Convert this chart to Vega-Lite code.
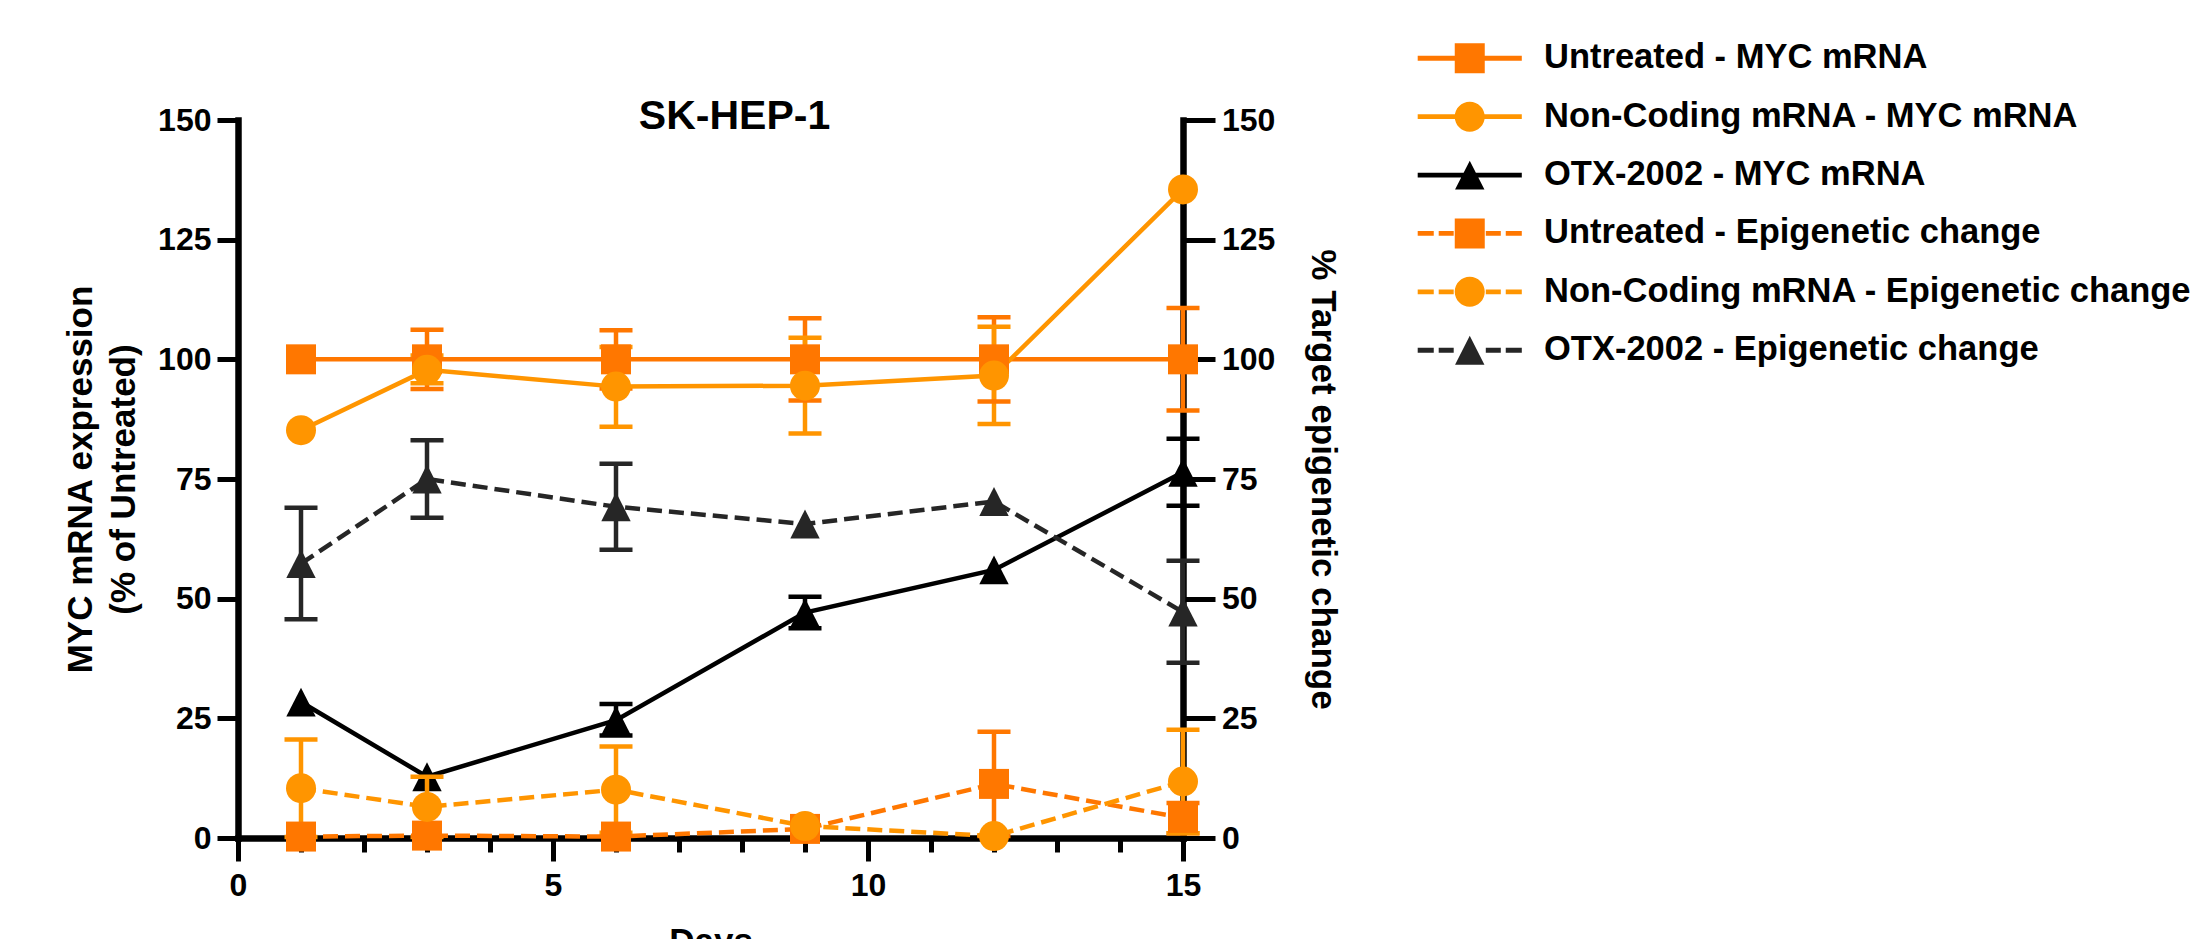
{
  "$schema": "https://vega.github.io/schema/vega-lite/v6.json",
  "autosize": {"type": "none"},
  "padding": {"left": 238, "top": 120, "right": 1022, "bottom": 101},
  "width": 945,
  "height": 718,
  "background": "white",
  "title": {"text": "SK-HEP-1", "fontSize": 41, "font": "Liberation Sans", "fontWeight": "bold", "color": "black", "anchor": "middle", "frame": "group", "dx": 24, "offset": -129, "baseline": "alphabetic"},
  "data": {"values": [
    {"series": "Untreated - MYC mRNA", "measure": "MYC", "day": 1, "value": 100, "lo": null, "hi": null},
    {"series": "Untreated - MYC mRNA", "measure": "MYC", "day": 3, "value": 100, "lo": 93.8, "hi": 106.2},
    {"series": "Untreated - MYC mRNA", "measure": "MYC", "day": 6, "value": 100, "lo": 93.9, "hi": 106.1},
    {"series": "Untreated - MYC mRNA", "measure": "MYC", "day": 9, "value": 100, "lo": 91.4, "hi": 108.6},
    {"series": "Untreated - MYC mRNA", "measure": "MYC", "day": 12, "value": 100, "lo": 91.2, "hi": 108.8},
    {"series": "Untreated - MYC mRNA", "measure": "MYC", "day": 15, "value": 100, "lo": 89.3, "hi": 110.7},
    {"series": "Non-Coding mRNA - MYC mRNA", "measure": "MYC", "day": 1, "value": 85.2, "lo": null, "hi": null},
    {"series": "Non-Coding mRNA - MYC mRNA", "measure": "MYC", "day": 3, "value": 97.8, "lo": 95.0, "hi": 100.8},
    {"series": "Non-Coding mRNA - MYC mRNA", "measure": "MYC", "day": 6, "value": 94.3, "lo": 85.9, "hi": 102.6},
    {"series": "Non-Coding mRNA - MYC mRNA", "measure": "MYC", "day": 9, "value": 94.5, "lo": 84.5, "hi": 104.5},
    {"series": "Non-Coding mRNA - MYC mRNA", "measure": "MYC", "day": 12, "value": 96.6, "lo": 86.5, "hi": 106.8},
    {"series": "Non-Coding mRNA - MYC mRNA", "measure": "MYC", "day": 15, "value": 135.5, "lo": null, "hi": null},
    {"series": "OTX-2002 - MYC mRNA", "measure": "MYC", "day": 1, "value": 28.4, "lo": null, "hi": null},
    {"series": "OTX-2002 - MYC mRNA", "measure": "MYC", "day": 3, "value": 12.8, "lo": null, "hi": null},
    {"series": "OTX-2002 - MYC mRNA", "measure": "MYC", "day": 6, "value": 24.6, "lo": 21.4, "hi": 28.0},
    {"series": "OTX-2002 - MYC mRNA", "measure": "MYC", "day": 9, "value": 47.1, "lo": 43.8, "hi": 50.4},
    {"series": "OTX-2002 - MYC mRNA", "measure": "MYC", "day": 12, "value": 56.0, "lo": null, "hi": null},
    {"series": "OTX-2002 - MYC mRNA", "measure": "MYC", "day": 15, "value": 76.4, "lo": 69.4, "hi": 83.4},
    {"series": "Untreated - Epigenetic change", "measure": "Epi", "day": 1, "value": 0.3, "lo": null, "hi": null},
    {"series": "Untreated - Epigenetic change", "measure": "Epi", "day": 3, "value": 0.5, "lo": null, "hi": null},
    {"series": "Untreated - Epigenetic change", "measure": "Epi", "day": 6, "value": 0.3, "lo": null, "hi": null},
    {"series": "Untreated - Epigenetic change", "measure": "Epi", "day": 9, "value": 1.9, "lo": null, "hi": null},
    {"series": "Untreated - Epigenetic change", "measure": "Epi", "day": 12, "value": 11.3, "lo": 0.4, "hi": 22.2},
    {"series": "Untreated - Epigenetic change", "measure": "Epi", "day": 15, "value": 4.2, "lo": 1.0, "hi": 7.3},
    {"series": "Non-Coding mRNA - Epigenetic change", "measure": "Epi", "day": 1, "value": 10.4, "lo": 0.2, "hi": 20.6},
    {"series": "Non-Coding mRNA - Epigenetic change", "measure": "Epi", "day": 3, "value": 6.5, "lo": 0.2, "hi": 12.8},
    {"series": "Non-Coding mRNA - Epigenetic change", "measure": "Epi", "day": 6, "value": 10.1, "lo": 1.1, "hi": 19.1},
    {"series": "Non-Coding mRNA - Epigenetic change", "measure": "Epi", "day": 9, "value": 2.5, "lo": null, "hi": null},
    {"series": "Non-Coding mRNA - Epigenetic change", "measure": "Epi", "day": 12, "value": 0.4, "lo": null, "hi": null},
    {"series": "Non-Coding mRNA - Epigenetic change", "measure": "Epi", "day": 15, "value": 11.8, "lo": 1.0, "hi": 22.6},
    {"series": "OTX-2002 - Epigenetic change", "measure": "Epi", "day": 1, "value": 57.3, "lo": 45.7, "hi": 69.0},
    {"series": "OTX-2002 - Epigenetic change", "measure": "Epi", "day": 3, "value": 75.0, "lo": 66.9, "hi": 83.1},
    {"series": "OTX-2002 - Epigenetic change", "measure": "Epi", "day": 6, "value": 69.2, "lo": 60.2, "hi": 78.2},
    {"series": "OTX-2002 - Epigenetic change", "measure": "Epi", "day": 9, "value": 65.6, "lo": null, "hi": null},
    {"series": "OTX-2002 - Epigenetic change", "measure": "Epi", "day": 12, "value": 70.3, "lo": null, "hi": null},
    {"series": "OTX-2002 - Epigenetic change", "measure": "Epi", "day": 15, "value": 47.2, "lo": 36.6, "hi": 57.9}
  ]},
  "encoding": {
    "x": {
      "field": "day", "type": "quantitative", "title": "Days",
      "scale": {"domain": [0, 15], "nice": false, "zero": false},
      "axis": {
        "orient": "bottom",
        "values": [0, 1, 2, 3, 4, 5, 6, 7, 8, 9, 10, 11, 12, 13, 14, 15],
        "labelExpr": "datum.value % 5 === 0 ? datum.label : ''",
        "tickSize": {"condition": {"test": "datum.value % 5 === 0", "value": 23}, "value": 14},
        "labelPadding": 9.6,
        "titlePadding": 23
      }
    },
    "color": {
      "field": "series", "type": "nominal", "legend": null,
      "scale": {
        "domain": ["Untreated - MYC mRNA", "Non-Coding mRNA - MYC mRNA", "OTX-2002 - MYC mRNA", "Untreated - Epigenetic change", "Non-Coding mRNA - Epigenetic change", "OTX-2002 - Epigenetic change"],
        "range": ["#FF7700", "#FF9500", "#000000", "#FF7700", "#FF9500", "#262626"]
      }
    }
  },
  "layer": [
    {
      "transform": [{"filter": "datum.measure === 'MYC'"}],
      "encoding": {
        "y": {
          "field": "value", "type": "quantitative",
          "title": ["MYC mRNA expression", "(% of Untreated)"],
          "scale": {"domain": [0, 150], "nice": false},
          "axis": {"orient": "left", "values": [0, 25, 50, 75, 100, 125, 150], "tickSize": 21, "labelPadding": 6, "titlePadding": 16, "titleLineHeight": 43.5}
        }
      },
      "layer": [
        {
          "data": {"values": [{"baseline": 100}]},
          "mark": {"type": "rule", "strokeWidth": 3, "strokeDash": [3.3, 5]},
          "encoding": {
            "x": {"datum": 0, "type": "quantitative"},
            "x2": {"datum": 15},
            "y": {"field": "baseline", "type": "quantitative", "scale": {"domain": [0, 150], "nice": false}},
            "color": {"value": "black"}
          }
        },
        {
          "mark": {"type": "rule", "strokeWidth": 4.5},
          "encoding": {
            "y": {"field": "lo", "type": "quantitative", "scale": {"domain": [0, 150], "nice": false}},
            "y2": {"field": "hi"}
          }
        },
        {
          "mark": {"type": "tick", "orient": "horizontal", "size": 33, "thickness": 4.5, "opacity": 1},
          "encoding": {"y": {"field": "lo", "type": "quantitative", "scale": {"domain": [0, 150], "nice": false}}}
        },
        {
          "mark": {"type": "tick", "orient": "horizontal", "size": 33, "thickness": 4.5, "opacity": 1},
          "encoding": {"y": {"field": "hi", "type": "quantitative", "scale": {"domain": [0, 150], "nice": false}}}
        },
        {
          "mark": {"type": "line", "strokeWidth": 4.5}
        },
        {
          "mark": {"type": "point", "filled": true, "size": 900, "opacity": 1, "strokeWidth": 0},
          "encoding": {
            "shape": {
              "field": "series", "type": "nominal", "legend": null,
              "scale": {
                "domain": ["Untreated - MYC mRNA", "Non-Coding mRNA - MYC mRNA", "OTX-2002 - MYC mRNA", "Untreated - Epigenetic change", "Non-Coding mRNA - Epigenetic change", "OTX-2002 - Epigenetic change"],
                "range": ["square", "circle", "M0,-0.96L0.98,0.96L-0.98,0.96Z", "square", "circle", "M0,-0.96L0.98,0.96L-0.98,0.96Z"]
              }
            }
          }
        }
      ]
    },
    {
      "transform": [{"filter": "datum.measure === 'Epi'"}],
      "encoding": {
        "y": {
          "field": "value", "type": "quantitative",
          "title": "% Target epigenetic change",
          "scale": {"domain": [0, 150], "nice": false},
          "axis": {"orient": "right", "values": [0, 25, 50, 75, 100, 125, 150], "tickSize": 32, "labelPadding": 6.5, "titlePadding": 30}
        }
      },
      "layer": [
        {
          "mark": {"type": "rule", "strokeWidth": 4.5},
          "encoding": {
            "y": {"field": "lo", "type": "quantitative", "scale": {"domain": [0, 150], "nice": false}},
            "y2": {"field": "hi"}
          }
        },
        {
          "mark": {"type": "tick", "orient": "horizontal", "size": 33, "thickness": 4.5, "opacity": 1},
          "encoding": {"y": {"field": "lo", "type": "quantitative", "scale": {"domain": [0, 150], "nice": false}}}
        },
        {
          "mark": {"type": "tick", "orient": "horizontal", "size": 33, "thickness": 4.5, "opacity": 1},
          "encoding": {"y": {"field": "hi", "type": "quantitative", "scale": {"domain": [0, 150], "nice": false}}}
        },
        {
          "mark": {"type": "line", "strokeWidth": 4.5, "strokeDash": [15, 7]}
        },
        {
          "mark": {"type": "point", "filled": true, "size": 900, "opacity": 1, "strokeWidth": 0},
          "encoding": {
            "shape": {
              "field": "series", "type": "nominal", "legend": null,
              "scale": {
                "domain": ["Untreated - MYC mRNA", "Non-Coding mRNA - MYC mRNA", "OTX-2002 - MYC mRNA", "Untreated - Epigenetic change", "Non-Coding mRNA - Epigenetic change", "OTX-2002 - Epigenetic change"],
                "range": ["square", "circle", "M0,-0.96L0.98,0.96L-0.98,0.96Z", "square", "circle", "M0,-0.96L0.98,0.96L-0.98,0.96Z"]
              }
            }
          }
        }
      ]
    },
    {
      "transform": [{"filter": "false"}],
      "mark": {"type": "point", "filled": true, "size": 900, "opacity": 1, "strokeWidth": 0},
      "encoding": {
        "y": {"field": "value", "type": "quantitative", "scale": {"domain": [0, 150], "nice": false}, "axis": null},
        "color": {
          "field": "series", "type": "nominal",
          "scale": {
            "domain": ["Untreated - MYC mRNA", "Non-Coding mRNA - MYC mRNA", "OTX-2002 - MYC mRNA", "Untreated - Epigenetic change", "Non-Coding mRNA - Epigenetic change", "OTX-2002 - Epigenetic change"],
            "range": ["#FF7700", "#FF9500", "#000000", "#FF7700", "#FF9500", "#262626"]
          },
          "legend": {
            "orient": "none", "legendX": 1214.5, "legendY": -79, "title": null,
            "symbolSize": 900, "symbolOpacity": 1, "symbolStrokeWidth": 0,
            "labelFontSize": 34.5, "labelFont": "Liberation Sans", "labelFontWeight": "bold",
            "labelColor": "black", "labelLimit": 900, "labelOffset": 57, "rowPadding": 23.4, "padding": 0,
            "labelBaseline": "middle"
          }
        },
        "shape": {
          "field": "series", "type": "nominal",
          "scale": {
            "domain": ["Untreated - MYC mRNA", "Non-Coding mRNA - MYC mRNA", "OTX-2002 - MYC mRNA", "Untreated - Epigenetic change", "Non-Coding mRNA - Epigenetic change", "OTX-2002 - Epigenetic change"],
            "range": [
              "M-3.47,-0.16H3.47V0.16H-3.47ZM-1,-1H1V1H-1Z",
              "M-3.47,-0.16H3.47V0.16H-3.47ZM1,0A1,1 0 1,1 -1,0A1,1 0 1,1 1,0Z",
              "M-3.47,-0.16H3.47V0.16H-3.47ZM0,-0.96L0.98,0.96L-0.98,0.96Z",
              "M-3.47,-0.16H-2.4V0.16H-3.47ZM-2.07,-0.16H-1.07V0.16H-2.07ZM1.07,-0.16H2.07V0.16H1.07ZM2.4,-0.16H3.47V0.16H2.4ZM-1,-1H1V1H-1Z",
              "M-3.47,-0.16H-2.4V0.16H-3.47ZM-2.07,-0.16H-1.07V0.16H-2.07ZM1.07,-0.16H2.07V0.16H1.07ZM2.4,-0.16H3.47V0.16H2.4ZM1,0A1,1 0 1,1 -1,0A1,1 0 1,1 1,0Z",
              "M-3.47,-0.16H-2.4V0.16H-3.47ZM-2.07,-0.16H-1.07V0.16H-2.07ZM1.07,-0.16H2.07V0.16H1.07ZM2.4,-0.16H3.47V0.16H2.4ZM0,-0.96L0.98,0.96L-0.98,0.96Z"
            ]
          },
          "legend": {
            "orient": "none", "legendX": 1214.5, "legendY": -79, "title": null,
            "symbolSize": 900, "symbolOpacity": 1, "symbolStrokeWidth": 0,
            "labelFontSize": 34.5, "labelFont": "Liberation Sans", "labelFontWeight": "bold",
            "labelColor": "black", "labelLimit": 900, "labelOffset": 57, "rowPadding": 23.4, "padding": 0,
            "labelBaseline": "middle"
          }
        }
      }
    }
  ],
  "resolve": {"scale": {"y": "independent", "color": "independent", "shape": "independent"}, "axis": {"y": "independent"}},
  "config": {
    "view": {"stroke": null},
    "font": "Liberation Sans",
    "axis": {
      "grid": false, "domainColor": "#000000", "domainWidth": 6.5, "domainCap": "square",
      "tickColor": "#000000", "tickWidth": 5,
      "labelFont": "Liberation Sans", "labelFontSize": 32, "labelFontWeight": "bold", "labelColor": "#000000",
      "labelFlush": false, "labelOverlap": false,
      "titleFont": "Liberation Sans", "titleFontSize": 35, "titleFontWeight": "bold", "titleColor": "#000000"
    }
  }
}
